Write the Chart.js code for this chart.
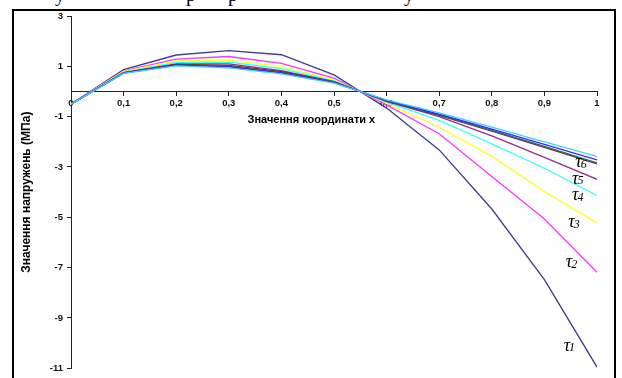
<!DOCTYPE html>
<html>
<head>
<meta charset="utf-8">
<script src="https://cdn.jsdelivr.net/npm/chart.js@4.4.0/dist/chart.umd.min.js"></script>
<style>
html, body { margin: 0; padding: 0; background: #fff; }
#wrap { position: relative; width: 622px; height: 378px; overflow: hidden; }
#frame { position: absolute; left: 12px; top: 9px; width: 600px; height: 400px; border: 2px solid #000; }
#chart { position: absolute; left: 0; top: 0; }
.cut { position: absolute; top: -17px; font: 20px "Liberation Serif"; color: #000; }
</style>
</head>
<body>
<div id="wrap">
    <span class="cut" style="left:55px">у</span>
    <span class="cut" style="left:186px">р</span>
    <span class="cut" style="left:228px">р</span>
    <span class="cut" style="left:404px">у</span>
    <div id="frame"></div>
    <canvas id="chart" width="622" height="378"></canvas>
</div>
<script>
// x coordinate and tick labels
const xs = [0, 0.1, 0.2, 0.3, 0.4, 0.5, 0.6, 0.7, 0.8, 0.9, 1];
const xTickLabels = ['0', '0,1', '0,2', '0,3', '0,4', '0,5', '0,6', '0,7', '0,8', '0,9', '1'];
const yTickLabels = ['-11', '-9', '-7', '-5', '-3', '-1', '1', '3'];

// stress values for each time moment
const tau1 = [-0.5, 0.87, 1.45, 1.62, 1.46, 0.66, -0.66, -2.32, -4.67, -7.48, -10.95];
const tau2 = [-0.5, 0.82, 1.29, 1.39, 1.12, 0.53, -0.53, -1.68, -3.38, -5.07, -7.18];
const tau3 = [-0.5, 0.8, 1.22, 1.25, 0.99, 0.46, -0.46, -1.42, -2.58, -3.98, -5.22];
const tau4 = [-0.5, 0.77, 1.16, 1.17, 0.91, 0.42, -0.42, -1.15, -2.08, -3.05, -4.13];
const tau5 = [-0.5, 0.75, 1.1, 1.1, 0.83, 0.39, -0.39, -1.0, -1.76, -2.62, -3.49];
const tau6 = [-0.5, 0.74, 1.08, 1.04, 0.79, 0.38, -0.38, -0.95, -1.58, -2.22, -2.88];
const tau7 = [-0.5, 0.74, 1.06, 1.0, 0.76, 0.37, -0.37, -0.93, -1.55, -2.18, -2.84];
const tau8 = [-0.5, 0.73, 1.05, 0.98, 0.74, 0.35, -0.35, -0.9, -1.5, -2.1, -2.72];
const tau9 = [-0.5, 0.72, 1.02, 0.94, 0.7, 0.33, -0.33, -0.85, -1.42, -2.0, -2.58];

const series = [tau1, tau2, tau3, tau4, tau5, tau6, tau7, tau8, tau9];
const colors = ['#3c3c90', '#ff33ff', '#ffff22', '#33ffff', '#903090', '#802020', '#207070', '#2a2aff', '#44ccff'];

// curve labels (data coordinates)
const tauNames = ['1', '2', '3', '4', '5', '6'];
const tauX = [0.945, 0.949, 0.954, 0.961, 0.961, 0.967];
const tauY = [-10.12, -6.79, -5.21, -4.14, -3.47, -2.83];

const xTitle = 'Значення координати х';
const yTitle = 'Значення напружень (МПа)';

const labelPlugin = {
    id: 'labels',
    afterDatasetsDraw(chart) {
        const { ctx, scales: { x, y } } = chart;
        ctx.save();
        ctx.fillStyle = '#000';
        ctx.textBaseline = 'middle';
        tauNames.forEach((n, i) => {
            const px = x.getPixelForValue(tauX[i]);
            const py = y.getPixelForValue(tauY[i]);
            ctx.font = 'italic 18px "Liberation Serif"';
            ctx.textAlign = 'right';
            ctx.fillText('τ', px + 2, py);
            ctx.font = 'italic 12px "Liberation Serif"';
            ctx.textAlign = 'left';
            ctx.fillText(n, px + 1, py + 2);
        });
        // x axis title
        ctx.font = 'bold 11px "Liberation Sans"';
        ctx.textAlign = 'center';
        ctx.fillText(xTitle, x.getPixelForValue(0.457), y.getPixelForValue(0) + 28);
        ctx.restore();
    }
};

new Chart(document.getElementById('chart'), {
    type: 'line',
    data: {
        datasets: series.map((s, i) => ({
            data: s.map((v, j) => ({ x: xs[j], y: v })),
            borderColor: colors[i],
            borderWidth: 1.3,
            pointRadius: 0,
            fill: false,
            tension: 0,
            order: series.length - i
        }))
    },
    options: {
        responsive: false,
        animation: false,
        layout: { padding: { left: 0, top: 16, right: 25, bottom: 9 } },
        plugins: {
            legend: { display: false },
            tooltip: { enabled: false }
        },
        scales: {
            x: {
                type: 'linear',
                position: { y: 0 },
                min: 0,
                max: 1,
                ticks: {
                    stepSize: 0.1,
                    color: '#111',
                    font: { family: 'Liberation Sans', size: 9.5, weight: 'bold' },
                    padding: 2,
                    maxRotation: 0,
                    callback: (v, i) => xTickLabels[i]
                },
                grid: { drawOnChartArea: false, tickLength: 4, color: '#222' },
                border: { color: '#222', width: 1 }
            },
            y: {
                type: 'linear',
                position: 'left',
                min: -11,
                max: 3,
                afterFit: s => { s.width = 71; },
                ticks: {
                    stepSize: 2,
                    color: '#111',
                    font: { family: 'Liberation Sans', size: 9.5, weight: 'bold' },
                    padding: 4,
                    callback: (v, i) => yTickLabels[i]
                },
                grid: { drawOnChartArea: false, tickLength: 4, color: '#222' },
                border: { color: '#222', width: 1 },
                title: {
                    display: true,
                    text: yTitle,
                    color: '#000',
                    font: { family: 'Liberation Sans', size: 12, weight: 'bold' },
                    padding: { top: 19, bottom: 0 }
                }
            }
        }
    },
    plugins: [labelPlugin]
});
</script>
</body>
</html>
